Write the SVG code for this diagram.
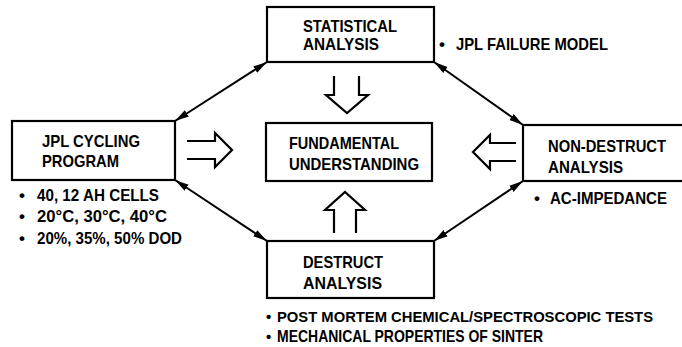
<svg xmlns="http://www.w3.org/2000/svg" width="682" height="347" viewBox="0 0 682 347">
<style>
.box{fill:#fff;stroke:#000;stroke-width:2.2}
.t{font-family:"Liberation Sans",Arial,sans-serif;font-weight:bold;font-size:17px;fill:#000}
.s{font-size:15px}
.n{font-size:16px}
.conn{stroke:#000;stroke-width:2;fill:none;marker-start:url(#ah);marker-end:url(#ah)}
.hollow{stroke:#000;stroke-width:2.2;fill:none;stroke-linejoin:miter}
</style>
<defs>
<marker id="ah" markerUnits="userSpaceOnUse" markerWidth="15" markerHeight="9" refX="14" refY="4.5" orient="auto-start-reverse">
<path d="M0,0.8 L14,4.5 L0,8.2 z" fill="#000"/>
</marker>
</defs>
<rect width="682" height="347" fill="#fff"/>
<g id="connectors">
<line class="conn" x1="175" y1="121" x2="267" y2="62"/>
<line class="conn" x1="175" y1="180" x2="267" y2="241"/>
<line class="conn" x1="434" y1="62" x2="523" y2="125"/>
<line class="conn" x1="523" y1="181" x2="434" y2="241"/>
<path class="hollow" d="M334,76 V95 H326 L347,113 L368,95 H359 V76"/>
<path class="hollow" d="M334,233 V210 H325 L345,192 L365,210 H356 V233"/>
<path class="hollow" d="M187,141 H215 V133 L232,150 L215,167 V159 H187"/>
<path class="hollow" d="M516,143 H490 V135 L473,152 L490,169 V161 H516"/>
</g>
<g id="statistical">
<rect class="box" x="267" y="7" width="167" height="55"/>
<text class="t" x="303" y="32" textLength="94" lengthAdjust="spacingAndGlyphs">STATISTICAL</text>
<text class="t" x="303" y="50" textLength="76" lengthAdjust="spacingAndGlyphs">ANALYSIS</text>
<text class="t" x="439" y="50">•</text>
<text class="t" x="456" y="50" textLength="152" lengthAdjust="spacingAndGlyphs">JPL FAILURE MODEL</text>
</g>
<g id="jpl">
<rect class="box" x="12" y="121" width="163" height="59"/>
<text class="t" x="42" y="147" textLength="98" lengthAdjust="spacingAndGlyphs">JPL CYCLING</text>
<text class="t" x="42" y="167" textLength="77" lengthAdjust="spacingAndGlyphs">PROGRAM</text>
<text class="t" x="19" y="201">•</text>
<text class="t" x="37" y="201" textLength="122" lengthAdjust="spacingAndGlyphs">40, 12 AH CELLS</text>
<text class="t" x="19" y="222">•</text>
<text class="t" x="37" y="222" textLength="130" lengthAdjust="spacingAndGlyphs">20°C, 30°C, 40°C</text>
<text class="t" x="19" y="244">•</text>
<text class="t" x="37" y="244" textLength="145" lengthAdjust="spacingAndGlyphs">20%, 35%, 50% DOD</text>
</g>
<g id="fundamental">
<rect class="box" x="266" y="123" width="166" height="58"/>
<text class="t" x="289" y="149" textLength="110" lengthAdjust="spacingAndGlyphs">FUNDAMENTAL</text>
<text class="t" x="289" y="170" textLength="130" lengthAdjust="spacingAndGlyphs">UNDERSTANDING</text>
</g>
<g id="nondestruct">
<rect class="box" x="523" y="125" width="180" height="56"/>
<text class="t n" x="548" y="152" textLength="118" lengthAdjust="spacingAndGlyphs">NON-DESTRUCT</text>
<text class="t n" x="548" y="173" textLength="75" lengthAdjust="spacingAndGlyphs">ANALYSIS</text>
<text class="t" x="534" y="204">•</text>
<text class="t n" x="550" y="204" textLength="117" lengthAdjust="spacingAndGlyphs">AC-IMPEDANCE</text>
</g>
<g id="destruct">
<rect class="box" x="267" y="241" width="167" height="57"/>
<text class="t" x="303" y="268" textLength="80" lengthAdjust="spacingAndGlyphs">DESTRUCT</text>
<text class="t" x="303" y="289" textLength="79" lengthAdjust="spacingAndGlyphs">ANALYSIS</text>
<text class="t s" x="266" y="322">•</text>
<text class="t s" x="277" y="322" textLength="376" lengthAdjust="spacingAndGlyphs">POST MORTEM CHEMICAL/SPECTROSCOPIC TESTS</text>
<text class="t s" x="266" y="342">•</text>
<text class="t" x="277" y="342" textLength="266" lengthAdjust="spacingAndGlyphs">MECHANICAL PROPERTIES OF SINTER</text>
</g>
</svg>
